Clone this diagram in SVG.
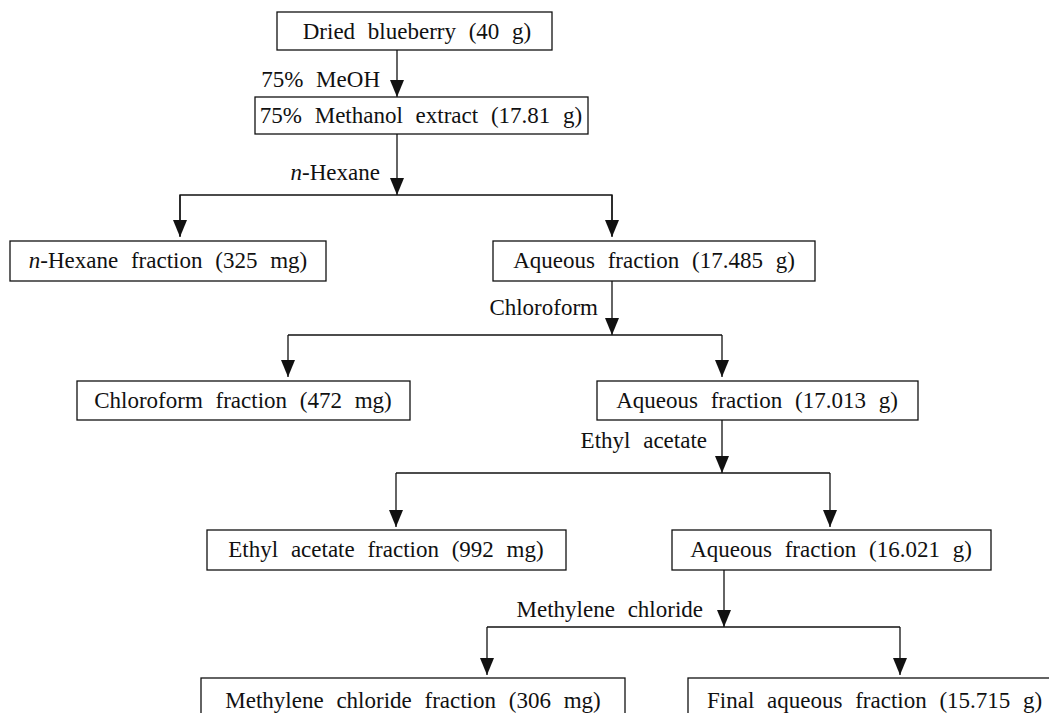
<svg xmlns="http://www.w3.org/2000/svg" width="1049" height="713" viewBox="0 0 1049 713">
<style>
  .box{fill:#fff;stroke:#111;stroke-width:1.3}
  .t{font-family:"Liberation Serif","Times New Roman",serif;font-size:23px;fill:#111;word-spacing:7px}
  .c{text-anchor:middle}
  .e{text-anchor:end}
  .ln{fill:none;stroke:#111;stroke-width:1.3}
  .it{font-style:italic}
</style>
<defs>
  <marker id="ah" markerUnits="userSpaceOnUse" markerWidth="18" markerHeight="16" refX="17" refY="7" orient="auto">
    <path d="M0,0 L17,7 L0,14 Z" fill="#111"/>
  </marker>
</defs>
<rect width="1049" height="713" fill="#fff"/>
<g id="connectors">
  <line class="ln" x1="397" y1="50" x2="397" y2="97" marker-end="url(#ah)"/>
  <line class="ln" x1="397" y1="134" x2="397" y2="195" marker-end="url(#ah)"/>
  <polyline class="ln" points="180,236 180,195 612,195 612,236"/>
  <line class="ln" x1="180" y1="195" x2="180" y2="237" marker-end="url(#ah)"/>
  <line class="ln" x1="612" y1="195" x2="612" y2="237" marker-end="url(#ah)"/>
  <line class="ln" x1="612" y1="281" x2="612" y2="335" marker-end="url(#ah)"/>
  <polyline class="ln" points="288,335 722,335"/>
  <line class="ln" x1="288" y1="335" x2="288" y2="377" marker-end="url(#ah)"/>
  <line class="ln" x1="722" y1="335" x2="722" y2="377" marker-end="url(#ah)"/>
  <line class="ln" x1="722" y1="420" x2="722" y2="473" marker-end="url(#ah)"/>
  <polyline class="ln" points="396,473 830,473"/>
  <line class="ln" x1="396" y1="473" x2="396" y2="527" marker-end="url(#ah)"/>
  <line class="ln" x1="830" y1="473" x2="830" y2="527" marker-end="url(#ah)"/>
  <line class="ln" x1="724" y1="570" x2="724" y2="627" marker-end="url(#ah)"/>
  <polyline class="ln" points="487,627 900,627"/>
  <line class="ln" x1="487" y1="627" x2="487" y2="675" marker-end="url(#ah)"/>
  <line class="ln" x1="900" y1="627" x2="900" y2="675" marker-end="url(#ah)"/>
  <text class="t e" x="380" y="87">75% MeOH</text>
  <text class="t e" x="380" y="180"><tspan class="it">n</tspan>-Hexane</text>
  <text class="t e" x="598" y="315">Chloroform</text>
  <text class="t e" x="707" y="448">Ethyl acetate</text>
  <text class="t e" x="703" y="617">Methylene chloride</text>
</g>
<g id="dried">
  <rect class="box" x="277" y="12" width="275" height="38"/>
  <text class="t c" x="417" y="39">Dried blueberry (40 g)</text>
</g>
<g id="methanol">
  <rect class="box" x="255" y="97" width="333" height="37"/>
  <text class="t c" x="421" y="123">75% Methanol extract (17.81 g)</text>
</g>
<g id="hexane">
  <rect class="box" x="10" y="241" width="316" height="40"/>
  <text class="t c" x="168" y="268"><tspan class="it">n</tspan>-Hexane fraction (325 mg)</text>
</g>
<g id="aq1">
  <rect class="box" x="493" y="241" width="322" height="40"/>
  <text class="t c" x="654" y="268">Aqueous fraction (17.485 g)</text>
</g>
<g id="chloroform">
  <rect class="box" x="77" y="381" width="333" height="39"/>
  <text class="t c" x="243" y="408">Chloroform fraction (472 mg)</text>
</g>
<g id="aq2">
  <rect class="box" x="597" y="381" width="321" height="39"/>
  <text class="t c" x="757" y="408">Aqueous fraction (17.013 g)</text>
</g>
<g id="ethyl">
  <rect class="box" x="207" y="530" width="359" height="40"/>
  <text class="t c" x="386" y="557">Ethyl acetate fraction (992 mg)</text>
</g>
<g id="aq3">
  <rect class="box" x="672" y="530" width="319" height="40"/>
  <text class="t c" x="831" y="557">Aqueous fraction (16.021 g)</text>
</g>
<g id="methylene">
  <rect class="box" x="201" y="678" width="424" height="45"/>
  <text class="t c" x="413" y="708">Methylene chloride fraction (306 mg)</text>
</g>
<g id="final">
  <rect class="box" x="688" y="678" width="380" height="45"/>
  <text class="t" x="707" y="708">Final aqueous fraction (15.715 g)</text>
</g>
</svg>
